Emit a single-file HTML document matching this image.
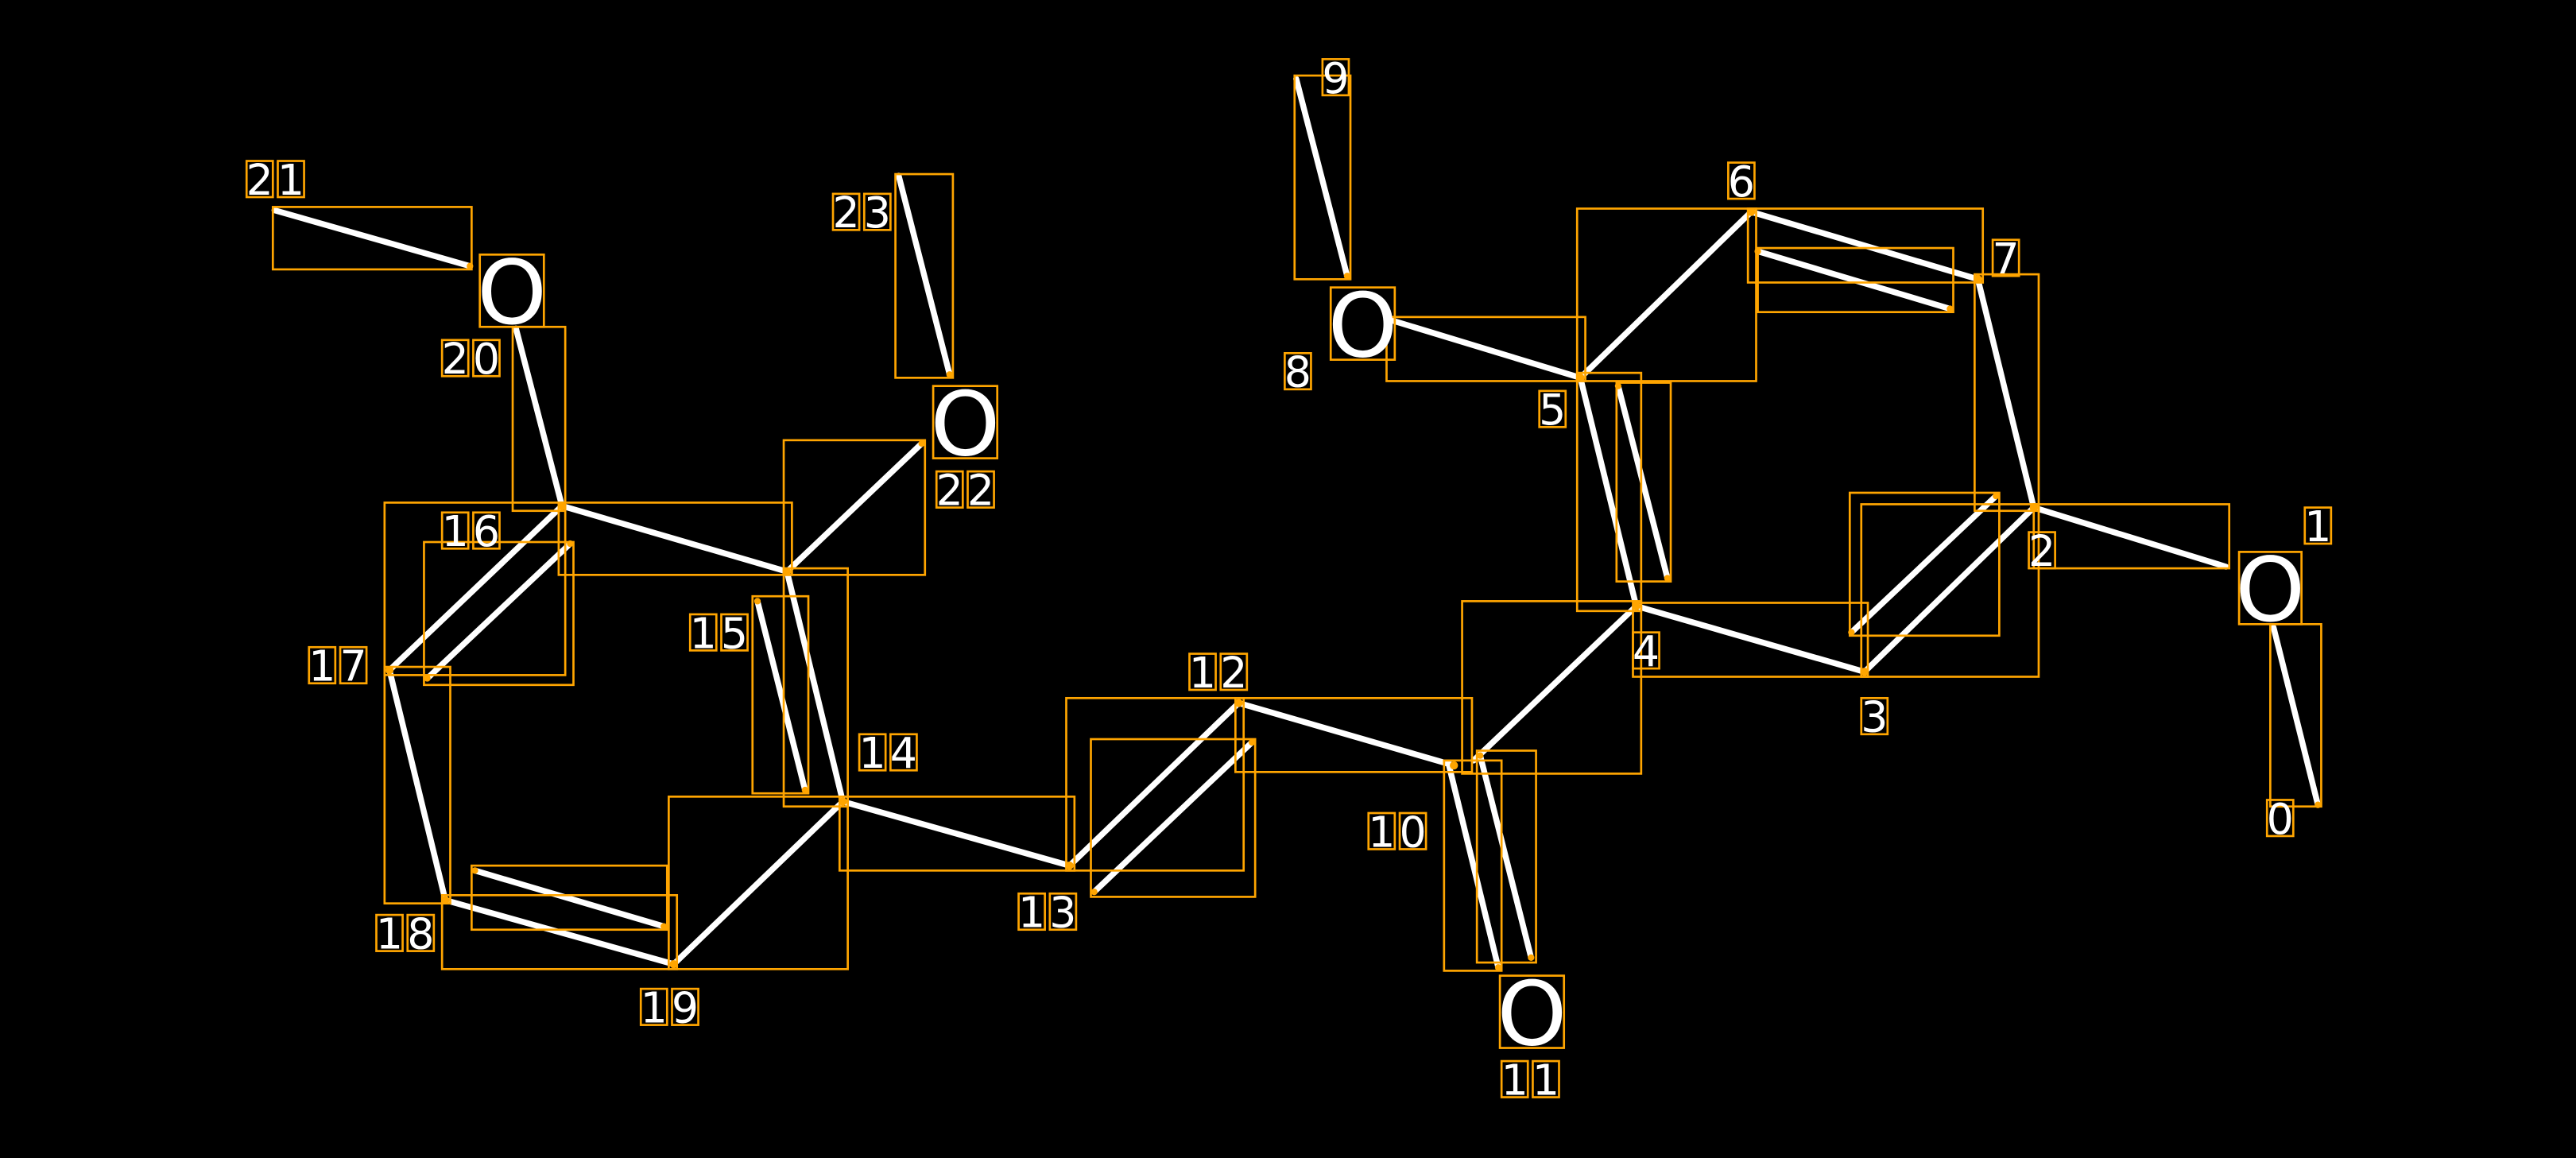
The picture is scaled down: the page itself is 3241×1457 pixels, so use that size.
<!DOCTYPE html>
<html><head><meta charset="utf-8"><style>
html,body{margin:0;padding:0;background:#000;}
svg{display:block;}
</style></head><body>
<svg width="3241" height="1457" viewBox="0 0 1568 705" xmlns="http://www.w3.org/2000/svg">
<rect x="0" y="0" width="1568" height="705" fill="#000"/>
<g stroke="#fff" stroke-width="3.6" stroke-linecap="round" fill="none">
<line x1="1384" y1="382" x2="1411" y2="490"/>
<line x1="1238" y1="309" x2="1355" y2="345"/>
<line x1="1204" y1="170" x2="1238" y2="309"/>
<line x1="1066" y1="129" x2="1204" y2="170"/>
<line x1="1070" y1="153" x2="1187" y2="188"/>
<line x1="962" y1="230" x2="1066" y2="129"/>
<line x1="847" y1="195" x2="962" y2="230"/>
<line x1="789" y1="48" x2="820" y2="168"/>
<line x1="962" y1="230" x2="996" y2="369"/>
<line x1="985" y1="235" x2="1015" y2="352"/>
<line x1="996" y1="369" x2="1135" y2="409"/>
<line x1="1135" y1="409" x2="1238" y2="309"/>
<line x1="1127" y1="385" x2="1215" y2="302"/>
<line x1="996" y1="369" x2="897" y2="463"/>
<line x1="754" y1="428" x2="885" y2="466"/>
<line x1="882" y1="466" x2="912" y2="589"/>
<line x1="901" y1="460" x2="932" y2="583"/>
<line x1="651" y1="527" x2="754" y2="428"/>
<line x1="666" y1="543" x2="762" y2="452"/>
<line x1="513" y1="488" x2="651" y2="527"/>
<line x1="479" y1="348" x2="513" y2="488"/>
<line x1="461" y1="366" x2="490" y2="481"/>
<line x1="479" y1="348" x2="561" y2="270"/>
<line x1="342" y1="308" x2="479" y2="348"/>
<line x1="314" y1="200" x2="342" y2="308"/>
<line x1="167" y1="128" x2="286" y2="162"/>
<line x1="547" y1="107" x2="578" y2="228"/>
<line x1="342" y1="308" x2="237" y2="408"/>
<line x1="260" y1="413" x2="347" y2="331"/>
<line x1="237" y1="408" x2="271" y2="548"/>
<line x1="271" y1="548" x2="410" y2="587"/>
<line x1="289" y1="530" x2="404" y2="564"/>
<line x1="410" y1="587" x2="513" y2="488"/>
</g>
<g stroke="#FFA500" stroke-width="1.3" fill="none">
<rect x="1382" y="380" width="31" height="111"/>
<rect x="1238" y="307" width="119" height="39"/>
<rect x="1202" y="167" width="39" height="144"/>
<rect x="1064" y="127" width="143" height="45"/>
<rect x="1070" y="151" width="119" height="39"/>
<rect x="960" y="127" width="109" height="105"/>
<rect x="844" y="193" width="121" height="39"/>
<rect x="788" y="46" width="34" height="124"/>
<rect x="960" y="227" width="39" height="145"/>
<rect x="984" y="233" width="33" height="121"/>
<rect x="994" y="367" width="143" height="45"/>
<rect x="1133" y="307" width="108" height="105"/>
<rect x="1126" y="300" width="91" height="87"/>
<rect x="890" y="366" width="109" height="105"/>
<rect x="752" y="425" width="144" height="45"/>
<rect x="879" y="463" width="35" height="128"/>
<rect x="899" y="457" width="36" height="129"/>
<rect x="649" y="425" width="108" height="105"/>
<rect x="664" y="450" width="100" height="96"/>
<rect x="511" y="485" width="143" height="45"/>
<rect x="477" y="346" width="39" height="145"/>
<rect x="458" y="363" width="34" height="120"/>
<rect x="477" y="268" width="86" height="82"/>
<rect x="340" y="306" width="142" height="44"/>
<rect x="312" y="199" width="32" height="112"/>
<rect x="166" y="126" width="121" height="38"/>
<rect x="545" y="106" width="35" height="124"/>
<rect x="234" y="306" width="110" height="105"/>
<rect x="258" y="330" width="91" height="87"/>
<rect x="234" y="406" width="40" height="144"/>
<rect x="269" y="545" width="143" height="45"/>
<rect x="287" y="527" width="119" height="39"/>
<rect x="407" y="485" width="109" height="105"/>
<rect x="1363" y="336" width="38" height="44"/>
<rect x="810" y="175" width="39" height="44"/>
<rect x="913" y="594" width="39" height="44"/>
<rect x="292" y="155" width="39" height="44"/>
<rect x="568" y="235" width="39" height="44"/>
</g>
<g fill="#FFA500">
<circle cx="1238" cy="309" r="2.5"/><circle cx="1204" cy="170" r="2.5"/><circle cx="1066" cy="129" r="2.5"/>
<circle cx="962" cy="230" r="2.5"/><circle cx="996" cy="369" r="2.5"/><circle cx="1135" cy="409" r="2.5"/>
<circle cx="1411" cy="490" r="2"/><circle cx="1187" cy="188" r="2"/><circle cx="1070" cy="153" r="2"/>
<circle cx="1015" cy="352" r="2"/><circle cx="985" cy="235" r="2"/><circle cx="1127" cy="385" r="2"/><circle cx="1215" cy="302" r="2"/>
<circle cx="885" cy="466" r="2.5"/><circle cx="901" cy="460" r="2"/><circle cx="912" cy="589" r="2"/><circle cx="932" cy="583" r="2"/>
<circle cx="754" cy="428" r="2.5"/><circle cx="651" cy="527" r="2.5"/><circle cx="513" cy="488" r="2.5"/><circle cx="479" cy="348" r="2.5"/>
<circle cx="342" cy="308" r="2.5"/><circle cx="237" cy="408" r="2.5"/><circle cx="271" cy="548" r="2.5"/><circle cx="410" cy="587" r="2.5"/>
<circle cx="820" cy="168" r="2"/><circle cx="578" cy="228" r="2"/><circle cx="286" cy="162" r="2"/><circle cx="561" cy="270" r="2"/>
<circle cx="666" cy="543" r="2"/><circle cx="762" cy="452" r="2"/><circle cx="461" cy="366" r="2"/><circle cx="490" cy="481" r="2"/>
<circle cx="260" cy="413" r="2"/><circle cx="347" cy="331" r="2"/><circle cx="289" cy="530" r="2"/><circle cx="404" cy="564" r="2"/>
</g>
<g fill="#fff" font-family="DejaVu Sans, Liberation Sans, sans-serif" text-anchor="middle">
<g font-size="54">
<text x="1382" y="378">O</text>
<text x="829.5" y="217">O</text>
<text x="932.5" y="636">O</text>
<text x="311.5" y="197">O</text>
<text x="587.5" y="277">O</text>
</g>
<g font-size="26">
<text x="1388" y="507.5">0</text>
<text x="1411" y="329.5">1</text>
<text x="1243" y="344.5">2</text>
<text x="1141" y="445.5">3</text>
<text x="1002" y="405.5">4</text>
<text x="945" y="258.5">5</text>
<text x="1060" y="119.5">6</text>
<text x="1221" y="166.5">7</text>
<text x="790" y="235.5">8</text>
<text x="813" y="56.5">9</text>
<text x="841" y="515.5">1</text><text x="860" y="515.5">0</text>
<text x="922" y="666.5">1</text><text x="941" y="666.5">1</text>
<text x="732" y="418.5">1</text><text x="751" y="418.5">2</text>
<text x="628" y="564.5">1</text><text x="647" y="564.5">3</text>
<text x="531" y="467.5">1</text><text x="550" y="467.5">4</text>
<text x="428" y="394.5">1</text><text x="447" y="394.5">5</text>
<text x="277" y="332.5">1</text><text x="296" y="332.5">6</text>
<text x="196" y="414.5">1</text><text x="215" y="414.5">7</text>
<text x="237" y="577.5">1</text><text x="256" y="577.5">8</text>
<text x="398" y="622.5">1</text><text x="417" y="622.5">9</text>
<text x="277" y="227.5">2</text><text x="296" y="227.5">0</text>
<text x="158" y="118.5">2</text><text x="177" y="118.5">1</text>
<text x="578" y="307.5">2</text><text x="597" y="307.5">2</text>
<text x="515" y="138.5">2</text><text x="534" y="138.5">3</text>
</g>
</g>
<g stroke="#FFA500" stroke-width="1.3" fill="none">
<rect x="1380" y="487" width="16" height="22"/>
<rect x="1403" y="309" width="16" height="22"/>
<rect x="1235" y="324" width="16" height="22"/>
<rect x="1133" y="425" width="16" height="22"/>
<rect x="994" y="385" width="16" height="22"/>
<rect x="937" y="238" width="16" height="22"/>
<rect x="1052" y="99" width="16" height="22"/>
<rect x="1213" y="146" width="16" height="22"/>
<rect x="782" y="215" width="16" height="22"/>
<rect x="805" y="36" width="16" height="22"/>
<rect x="833" y="495" width="16" height="22"/><rect x="852" y="495" width="16" height="22"/>
<rect x="914" y="646" width="16" height="22"/><rect x="933" y="646" width="16" height="22"/>
<rect x="724" y="398" width="16" height="22"/><rect x="743" y="398" width="16" height="22"/>
<rect x="620" y="544" width="16" height="22"/><rect x="639" y="544" width="16" height="22"/>
<rect x="523" y="447" width="16" height="22"/><rect x="542" y="447" width="16" height="22"/>
<rect x="420" y="374" width="16" height="22"/><rect x="439" y="374" width="16" height="22"/>
<rect x="269" y="312" width="16" height="22"/><rect x="288" y="312" width="16" height="22"/>
<rect x="188" y="394" width="16" height="22"/><rect x="207" y="394" width="16" height="22"/>
<rect x="229" y="557" width="16" height="22"/><rect x="248" y="557" width="16" height="22"/>
<rect x="390" y="602" width="16" height="22"/><rect x="409" y="602" width="16" height="22"/>
<rect x="269" y="207" width="16" height="22"/><rect x="288" y="207" width="16" height="22"/>
<rect x="150" y="98" width="16" height="22"/><rect x="169" y="98" width="16" height="22"/>
<rect x="570" y="287" width="16" height="22"/><rect x="589" y="287" width="16" height="22"/>
<rect x="507" y="118" width="16" height="22"/><rect x="526" y="118" width="16" height="22"/>
</g>
</svg>
</body></html>
